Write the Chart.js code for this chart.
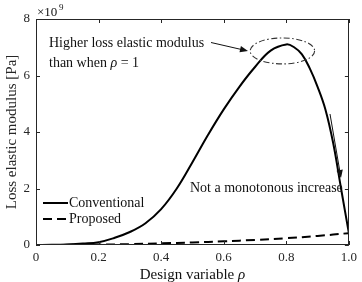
<!DOCTYPE html>
<html>
<head>
<meta charset="utf-8">
<script src="https://cdn.jsdelivr.net/npm/chart.js@4"></script>
<style>
  html, body { margin: 0; padding: 0; background: #fff; }
  #wrap { width: 362px; height: 282px; }
</style>
</head>
<body>
<div id="wrap"><canvas id="chart" width="362" height="282"></canvas></div>
<script>
// Datos (módulo de pérdida en unidades de 1e9 Pa)
const convRho = [0, 0.05, 0.1, 0.15, 0.2, 0.25, 0.3, 0.35, 0.4, 0.45, 0.5, 0.55, 0.6, 0.65, 0.7, 0.75, 0.8, 0.825, 0.85, 0.875, 0.9, 0.925, 0.95, 0.975, 1];
const convValues = [0, 0.005, 0.02, 0.05, 0.1, 0.25, 0.46, 0.77, 1.27, 2.0, 2.93, 3.9, 4.8, 5.6, 6.3, 6.88, 7.1, 7.0, 6.75, 6.25, 5.6, 4.8, 3.6, 2.0, 0.42];
const propRho = [0, 0.1, 0.2, 0.3, 0.4, 0.5, 0.6, 0.7, 0.8, 0.9, 1];
const propValues = [0, 0.005, 0.015, 0.03, 0.06, 0.09, 0.13, 0.18, 0.24, 0.32, 0.42];
const seriesLabels = ['Conventional', 'Proposed'];
const xTicks = [0, 0.2, 0.4, 0.6, 0.8, 1];
const yTicks = [0, 2, 4, 6, 8];

const SERIF = '"Liberation Serif", "DejaVu Serif", serif';
const AXIS = '#262626';

function arrow(ctx, x1, y1, x2, y2, head) {
    const a = Math.atan2(y2 - y1, x2 - x1);
    ctx.beginPath();
    ctx.moveTo(x1, y1);
    ctx.lineTo(x2 - Math.cos(a) * head * 0.8, y2 - Math.sin(a) * head * 0.8);
    ctx.stroke();
    ctx.beginPath();
    ctx.moveTo(x2, y2);
    ctx.lineTo(x2 - head * Math.cos(a) + head * 0.4 * Math.sin(a), y2 - head * Math.sin(a) - head * 0.4 * Math.cos(a));
    ctx.lineTo(x2 - head * Math.cos(a) - head * 0.4 * Math.sin(a), y2 - head * Math.sin(a) + head * 0.4 * Math.cos(a));
    ctx.closePath();
    ctx.fill();
}

// caja, ticks hacia dentro, leyenda y anotaciones
const matlabLook = {
    id: 'matlabLook',
    afterDraw(chart) {
        const ctx = chart.ctx;
        const a = chart.chartArea;
        const xs = chart.scales.x, ys = chart.scales.y;
        ctx.save();

        ctx.strokeStyle = AXIS;
        ctx.lineWidth = 1;
        ctx.strokeRect(Math.round(a.left) + 0.5, Math.round(a.top) + 0.5, Math.round(a.right - a.left) - 1, Math.round(a.bottom - a.top) - 1);
        ctx.beginPath();
        xTicks.forEach(v => {
            const px = Math.round(xs.getPixelForValue(v)) + 0.5;
            ctx.moveTo(px, a.bottom); ctx.lineTo(px, a.bottom - 4);
            ctx.moveTo(px, a.top); ctx.lineTo(px, a.top + 4);
        });
        yTicks.forEach(v => {
            const py = Math.round(ys.getPixelForValue(v)) + 0.5;
            ctx.moveTo(a.left, py); ctx.lineTo(a.left + 4, py);
            ctx.moveTo(a.right, py); ctx.lineTo(a.right - 4, py);
        });
        ctx.stroke();

        // exponente
        ctx.fillStyle = '#111';
        ctx.font = '13px ' + SERIF;
        ctx.textBaseline = 'alphabetic';
        ctx.textAlign = 'left';
        ctx.fillText('\u00d710', a.left + 1, 16);
        ctx.font = '9px ' + SERIF;
        ctx.fillText('9', a.left + 23, 10);

        // titulo eje x con rho en cursiva
        const t1 = 'Design variable ';
        ctx.font = 'italic 15px ' + SERIF;
        const wr = ctx.measureText('\u03c1').width;
        ctx.font = '15px ' + SERIF;
        const w1 = ctx.measureText(t1).width;
        const cx = (a.left + a.right) / 2;
        const sx = cx - (w1 + wr) / 2;
        ctx.textBaseline = 'middle';
        ctx.fillText(t1, sx, 275);
        ctx.font = 'italic 15px ' + SERIF;
        ctx.fillText('\u03c1', sx + w1, 275);

        // leyenda
        ctx.strokeStyle = '#000';
        ctx.lineWidth = 2;
        ctx.beginPath(); ctx.moveTo(43, 203); ctx.lineTo(68, 203); ctx.stroke();
        ctx.setLineDash([9, 5]);
        ctx.beginPath(); ctx.moveTo(43, 219); ctx.lineTo(68, 219); ctx.stroke();
        ctx.setLineDash([]);
        ctx.font = '14px ' + SERIF;
        ctx.fillStyle = '#111';
        ctx.fillText(seriesLabels[0], 69, 203);
        ctx.fillText(seriesLabels[1], 69, 219);

        // anotaciones
        ctx.fillText('Higher loss elastic modulus', 49, 43);
        ctx.fillText('than when ', 49, 63);
        const wt = ctx.measureText('than when ').width;
        ctx.font = 'italic 14px ' + SERIF;
        ctx.fillText('\u03c1', 49 + wt, 63);
        const wp = ctx.measureText('\u03c1').width;
        ctx.font = '14px ' + SERIF;
        ctx.fillText(' = 1', 49 + wt + wp, 63);
        ctx.fillText('Not a monotonous increase', 190, 188);

        // elipse alrededor del maximo
        const ex = xs.getPixelForValue(0.7875), ey = ys.getPixelForValue(6.87);
        const rx = xs.getPixelForValue(0.7875 + 0.103) - ex;
        const ry = ys.getPixelForValue(6.87) - ys.getPixelForValue(6.87 + 0.46);
        ctx.strokeStyle = '#333';
        ctx.lineWidth = 1.1;
        ctx.setLineDash([6, 2.5, 1.5, 2.5]);
        ctx.beginPath();
        ctx.ellipse(ex, ey, rx, ry, 0, 0, Math.PI * 2);
        ctx.stroke();
        ctx.setLineDash([]);

        // flechas
        ctx.strokeStyle = '#111';
        ctx.fillStyle = '#111';
        ctx.lineWidth = 1;
        arrow(ctx, 211, 42.5, 248, 51, 8);
        arrow(ctx, 330, 114, 341, 178, 8);

        ctx.restore();
    }
};

new Chart(document.getElementById('chart').getContext('2d'), {
    type: 'line',
    data: {
        datasets: [
            {
                label: seriesLabels[0],
                data: convRho.map((r, i) => ({ x: r, y: convValues[i] })),
                borderColor: '#000',
                borderWidth: 2,
                pointRadius: 0,
                tension: 0.4,
                fill: false
            },
            {
                label: seriesLabels[1],
                data: propRho.map((r, i) => ({ x: r, y: propValues[i] })),
                borderColor: '#000',
                borderWidth: 2,
                borderDash: [9, 5],
                pointRadius: 0,
                tension: 0.4,
                fill: false
            }
        ]
    },
    options: {
        responsive: false,
        animation: false,
        devicePixelRatio: 1,
        layout: { padding: { top: 19, right: 6, left: 0, bottom: 0 } },
        plugins: { legend: { display: false }, tooltip: { enabled: false } },
        scales: {
            x: {
                type: 'linear',
                min: 0, max: 1,
                grid: { display: false, drawTicks: false },
                border: { display: false },
                afterFit: s => { s.height = 37; },
                afterBuildTicks: s => { s.ticks = xTicks.map(v => ({ value: v })); },
                ticks: { color: '#262626', padding: 5, maxRotation: 0, font: { family: SERIF, size: 13 } }
            },
            y: {
                type: 'linear',
                min: 0, max: 8,
                grid: { display: false, drawTicks: false },
                border: { display: false },
                afterFit: s => { s.width = 36; },
                afterBuildTicks: s => { s.ticks = yTicks.map(v => ({ value: v })); },
                ticks: { color: '#262626', padding: 6, font: { family: SERIF, size: 13 } },
                title: {
                    display: true,
                    text: 'Loss elastic modulus [Pa]',
                    color: '#262626',
                    font: { family: SERIF, size: 15 },
                    padding: { top: 3, bottom: 0 }
                }
            }
        }
    },
    plugins: [matlabLook]
});
</script>
</body>
</html>
